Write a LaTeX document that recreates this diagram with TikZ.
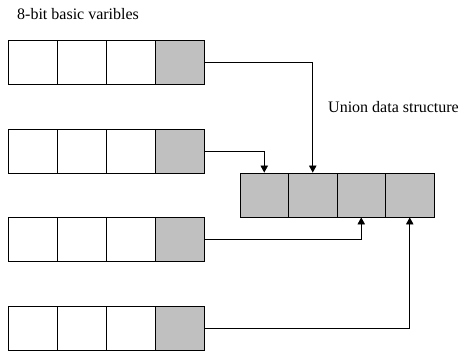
\documentclass[tikz,border=0pt]{standalone}
\usepackage{fontspec}
\setmainfont{Liberation Serif}
\usepackage{xcolor}
\usepackage{tikz}
\usetikzlibrary{arrows.meta}
\definecolor{cellgray}{RGB}{192,192,192}

\begin{document}
\begin{tikzpicture}[x=1pt,y=1pt]
\tikzstyle{every node}+=[inner sep=0pt]
\tikzstyle{cell}=[draw=black, line width=0.9pt, minimum width=49pt, minimum height=44pt]
\tikzstyle{shaded}=[cell, fill=cellgray]
\tikzstyle{ucell}=[shaded, minimum width=48.5pt]
\tikzstyle{link}=[black, line width=0.8pt, -{Triangle[width=7.5pt,length=7pt]}]
\tikzstyle{caption}=[anchor=west, font=\fontsize{16}{18}\selectfont]
\useasboundingbox (0,0) rectangle (460,-351);
% labels
\node [caption] (lblvars) at (17,-14) {8-bit basic varibles};
\node [caption] (lblunion) at (328,-107) {Union data structure};
% first variable
\node [cell] (v1a) at (32.5,-62.5) {};
\node [cell] (v1b) at (81.5,-62.5) {};
\node [cell] (v1c) at (130.5,-62.5) {};
\node [shaded] (v1d) at (179.5,-62.5) {};
% second variable
\node [cell] (v2a) at (32.5,-151) {};
\node [cell] (v2b) at (81.5,-151) {};
\node [cell] (v2c) at (130.5,-151) {};
\node [shaded] (v2d) at (179.5,-151) {};
% third variable
\node [cell] (v3a) at (32.5,-239.5) {};
\node [cell] (v3b) at (81.5,-239.5) {};
\node [cell] (v3c) at (130.5,-239.5) {};
\node [shaded] (v3d) at (179.5,-239.5) {};
% fourth variable
\node [cell] (v4a) at (32.5,-328) {};
\node [cell] (v4b) at (81.5,-328) {};
\node [cell] (v4c) at (130.5,-328) {};
\node [shaded] (v4d) at (179.5,-328) {};
% union
\node [ucell] (u1) at (264.25,-195) {};
\node [ucell] (u2) at (312.75,-195) {};
\node [ucell] (u3) at (361.25,-195) {};
\node [ucell] (u4) at (409.75,-195) {};
% connections
\draw [link] (v1d.east) -| (u2.north);
\draw [link] (v2d.east) -| (u1.north);
\draw [link] (v3d.east) -| (u3.south);
\draw [link] (v4d.east) -| (u4.south);
\end{tikzpicture}
\end{document}
